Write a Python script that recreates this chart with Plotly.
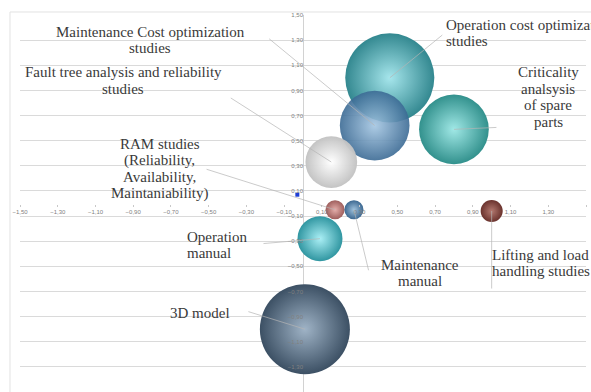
import plotly.graph_objects as go

# ---------------- data ----------------
topics = [
    "3D model",
    "Operation cost optimization studies",
    "Maintenance Cost optimization studies",
    "Criticality analsysis of spare parts",
    "Fault tree analysis and reliability studies",
    "Operation manual",
    "Lifting and load handling studies",
    "RAM studies (Reliability, Availability, Maintaniability)",
    "Maintenance manual",
]
x_vals = [0.01, 0.46, 0.38, 0.80, 0.15, 0.09, 1.00, 0.17, 0.27]
y_vals = [-1.00, 1.00, 0.62, 0.59, 0.33, -0.28, -0.06, -0.05, -0.05]
bubble_sizes = [10.0, 9.8, 6.0, 6.0, 3.3, 2.5, 0.6, 0.45, 0.45]

extra_x = [-0.03]
extra_y = [0.07]

tick_values = [-1.5, -1.3, -1.1, -0.9, -0.7, -0.5, -0.3, -0.1,
               0.1, 0.3, 0.5, 0.7, 0.9, 1.1, 1.3, 1.5]

# ---------------- styles ----------------
edge_colors = ["#3c5064", "#338890", "#3b6a94", "#32918d", "#c2c2c2",
               "#3096a1", "#6a322d", "#9e5e5c", "#3c6891"]
center_colors = ["#9fb3c6", "#a6e6ec", "#a4c6e2", "#a0e8e6", "#ffffff",
                 "#aaeff5", "#b3786f", "#e4aeaa", "#a0c2dd"]
opacities = [1, 1, 0.9, 1, 0.97, 1, 1, 1, 1]

# label layout: lines, text anchor (data coords), leader tail offset in px
label_layout = [
    dict(lines=["3D model"], tx=-0.546, ty=-0.871, xa="center", ax=-58, ay=-18),
    dict(lines=["Operation cost optimization", "studies"], tx=0.747, ty=1.356, xa="left", ax=54, ay=-44),
    dict(lines=["Maintenance Cost optimization", "studies"], tx=-0.81, ty=1.30, xa="center", ax=-107, ay=-88),
    dict(lines=["Criticality", "analsysis", "of spare", "parts"], tx=1.30, ty=0.847, xa="center", ax=44, ay=-2),
    dict(lines=["Fault tree analysis and reliability", "studies"], tx=-0.954, ty=0.98, xa="center", ax=-102, ay=-65),
    dict(lines=["Operation", "manual"], tx=-0.625, ty=-0.33, xa="left", ax=-58, ay=5),
    dict(lines=["Lifting and load", "handling studies"], tx=0.99, ty=-0.473, xa="left", ax=0, ay=79),
    dict(lines=["RAM studies", "(Reliability,", "Availability,", "Maintaniability)"], tx=-0.76, ty=0.28, xa="center", ax=-130, ay=-41),
    dict(lines=["Maintenance", "manual"], tx=0.62, ty=-0.553, xa="center", ax=15, ay=62),
]
line_step = 0.131  # vertical distance between text lines, in y units

max_diameter = 90
sizeref = 2.0 * max(bubble_sizes) / (max_diameter ** 2)

fig = go.Figure()
fig.add_trace(go.Scatter(
    x=x_vals, y=y_vals, mode="markers", text=topics, hoverinfo="text",
    marker=dict(
        size=bubble_sizes, sizemode="area", sizeref=sizeref,
        color=edge_colors, opacity=opacities,
        gradient=dict(type="radial", color=center_colors),
        line=dict(width=0),
    ),
    showlegend=False,
))
fig.add_trace(go.Scatter(
    x=extra_x, y=extra_y, mode="markers",
    marker=dict(symbol="square", size=4, color="#1f3fd6", line=dict(width=0)),
    showlegend=False, hoverinfo="skip",
))

annotations = []
for i, lab in enumerate(label_layout):
    annotations.append(dict(
        x=x_vals[i], y=y_vals[i], xref="x", yref="y", text="",
        showarrow=True, arrowhead=0, arrowwidth=0.7, arrowcolor="#b4b4b4",
        ax=lab["ax"], ay=lab["ay"], standoff=0, startstandoff=0,
    ))
    n = len(lab["lines"])
    for k, line in enumerate(lab["lines"]):
        annotations.append(dict(
            x=lab["tx"], y=lab["ty"] + ((n - 1) / 2 - k) * line_step,
            xref="x", yref="y", text=line,
            showarrow=False, xanchor=lab["xa"], yanchor="middle",
            font=dict(family="Liberation Serif", size=15, color="#3a3a3a"),
        ))

fig.update_layout(
    width=591, height=392,
    margin=dict(l=20, r=5, t=15, b=0),
    paper_bgcolor="white", plot_bgcolor="white",
    separators=", ",
    annotations=annotations,
    shapes=[dict(type="rect", xref="paper", yref="paper",
                 x0=-0.0177, x1=1.2, y0=-0.2, y1=1.008,
                 line=dict(color="#e2e2e2", width=1), layer="below")],
    xaxis=dict(
        range=[-1.5, 1.5], tickvals=tick_values, tickformat=".2f",
        anchor="free", position=0.5,
        showgrid=False, zeroline=True, zerolinecolor="#d2d2d2", zerolinewidth=1,
        showline=False, ticks="outside", ticklen=2, tickcolor="#c8c8c8",
        tickfont=dict(family="Liberation Sans", size=6, color="#808080"),
    ),
    yaxis=dict(
        range=[-1.5, 1.5], tickvals=tick_values, tickformat=".2f",
        anchor="free", position=0.5,
        showgrid=True, gridcolor="#dadada", gridwidth=1,
        zeroline=False, showline=False, ticks="",
        tickfont=dict(family="Liberation Sans", size=6, color="#808080"),
    ),
)

fig.write_html("out.html")
